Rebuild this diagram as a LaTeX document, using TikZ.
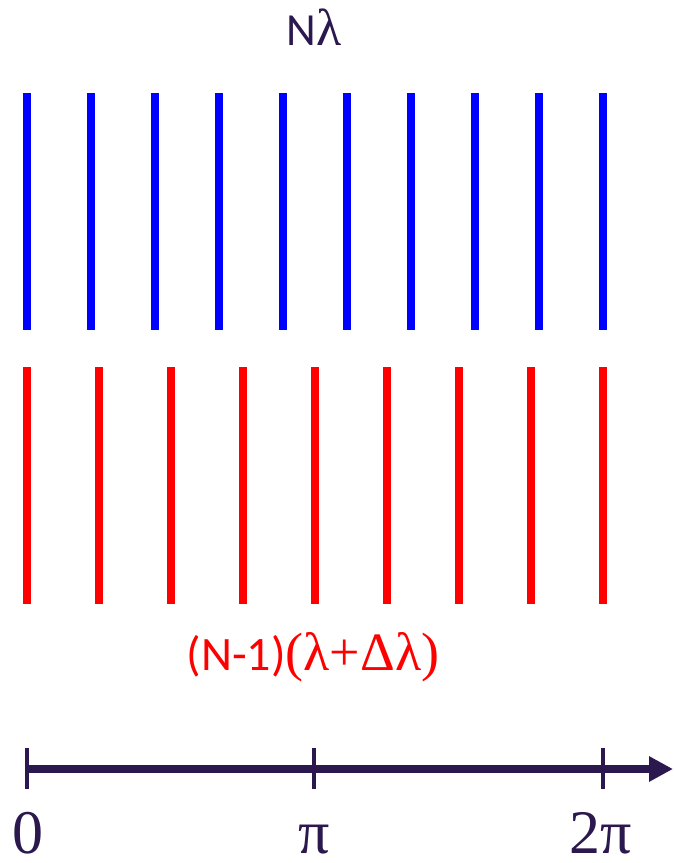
\documentclass[tikz,border=0pt]{standalone}
\usepackage{fontspec}
\setmainfont{Carlito}
\newfontfamily\grk{Liberation Serif}
\usetikzlibrary{arrows.meta}
\definecolor{navy}{RGB}{43,24,78}
\definecolor{pblue}{RGB}{0,0,255}
\definecolor{pred}{RGB}{255,0,0}
\begin{document}
\begin{tikzpicture}[x=1pt,y=-1pt,
  bluebar/.style={draw=pblue,line width=8pt},
  redbar/.style={draw=pred,line width=8pt},
  tickmark/.style={draw=navy,line width=4pt},
  axisline/.style={draw=navy,line width=8.5pt,-{Triangle[length=24pt,width=24pt]}},
  lbl/.style={inner sep=0pt,anchor=base},
  biglbl/.style={lbl,text=navy,font=\grk\fontsize{62}{64}\selectfont}]
\useasboundingbox (0,0) rectangle (673,863);
\foreach \i in {0,...,9} {
  \coordinate (bt\i) at ({27+\i*64},93);
  \coordinate (bb\i) at ({27+\i*64},330);
  \draw[bluebar] (bt\i) -- (bb\i);
}
\foreach \i in {0,...,8} {
  \coordinate (rt\i) at ({27+\i*72},367);
  \coordinate (rb\i) at ({27+\i*72},604);
  \draw[redbar] (rt\i) -- (rb\i);
}
\node[lbl,text=navy,font=\fontsize{46}{48}\selectfont] (top) at (314,45) {N{\grk\fontsize{52}{54}\selectfont λ}};
\node[lbl,text=pred,font=\fontsize{48}{50}\selectfont] (bot) at (313,670) {(N-1){\grk\fontsize{54}{56}\selectfont (λ+Δλ)}};
\coordinate (a0) at (27,769);
\coordinate (aend) at (673,769);
\draw[axisline] (a0) -- (aend);
\coordinate (t0a) at (27,748); \coordinate (t0b) at (27,789);
\coordinate (t1a) at (314,748); \coordinate (t1b) at (314,789);
\coordinate (t2a) at (603,748); \coordinate (t2b) at (603,789);
\draw[tickmark] (t0a) -- (t0b);
\draw[tickmark] (t1a) -- (t1b);
\draw[tickmark] (t2a) -- (t2b);
\node[biglbl] (l0) at (28,853) {0};
\node[biglbl] (l1) at (314,853) {π};
\node[biglbl] (l2) at (601,853) {2π};
\end{tikzpicture}
\end{document}
